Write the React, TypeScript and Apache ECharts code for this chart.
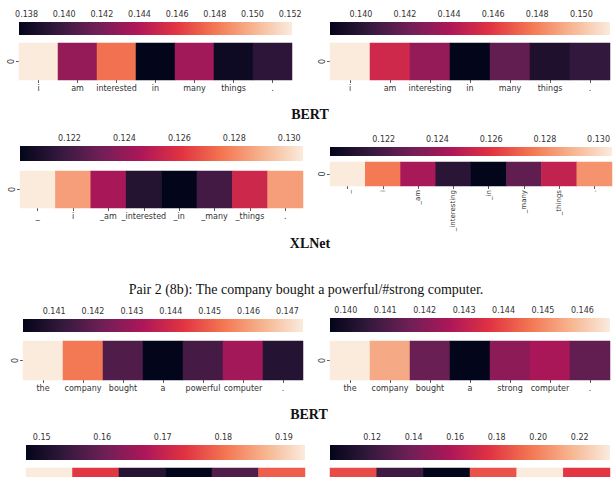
import { useEffect, useRef } from "react";
import * as echarts from "echarts";

// seaborn "rocket" colormap stops
const ROCKET = ["#03051a", "#35193e", "#701f57", "#ad1759", "#e13342", "#f37651", "#f6b48f", "#faebdd"];

// Pair 1, BERT
const bertTokens1a = ["i", "am", "interested", "in", "many", "things", "."];
const bertScores1a = [0.1521, 0.143, 0.1478, 0.1376, 0.1434, 0.1381, 0.1393];
const bertTicks1a = [0.138, 0.14, 0.142, 0.144, 0.146, 0.148, 0.15, 0.152];

const bertTokens1b = ["i", "am", "interesting", "in", "many", "things", "."];
const bertScores1b = [0.1513, 0.1452, 0.1433, 0.1386, 0.1418, 0.1396, 0.1403];
const bertTicks1b = [0.14, 0.142, 0.144, 0.146, 0.148, 0.15];

// Pair 1, XLNet
const xlnetTokens1a = ["_", "i", "_am", "_interested", "_in", "_many", "_things", "."];
const xlnetScores1a = [0.1305, 0.1285, 0.1245, 0.1212, 0.1202, 0.122, 0.1255, 0.1285];
const xlnetTicks1a = [0.122, 0.124, 0.126, 0.128, 0.13];

const xlnetTokens1b = ["_", "i", "_am", "_interesting", "_in", "_many", "_things", "."];
const xlnetScores1b = [0.1305, 0.1276, 0.1244, 0.1212, 0.12, 0.1226, 0.1251, 0.1282];
const xlnetTicks1b = [0.122, 0.124, 0.126, 0.128, 0.13];

// Pair 2, BERT
const bertTokens2a = ["the", "company", "bought", "a", "powerful", "computer", "."];
const bertScores2a = [0.1474, 0.1454, 0.1417, 0.1402, 0.1415, 0.1431, 0.1409];
const bertTicks2a = [0.141, 0.142, 0.143, 0.144, 0.145, 0.146, 0.147];

const bertTokens2b = ["the", "company", "bought", "a", "strong", "computer", "."];
const bertScores2b = [0.1467, 0.1455, 0.1415, 0.1396, 0.1421, 0.1426, 0.1414];
const bertTicks2b = [0.14, 0.141, 0.142, 0.143, 0.144, 0.145, 0.146];

// Pair 2, XLNet
const xlnetTokens2a = ["_the", "_company", "_bought", "_a", "_powerful", "_computer"];
const xlnetScores2a = [0.1935, 0.174, 0.152, 0.1474, 0.157, 0.178];
const xlnetTicks2a = [0.15, 0.16, 0.17, 0.18, 0.19];

const xlnetTokens2b = ["_the", "_company", "_bought", "_a", "_strong", "_computer"];
const xlnetScores2b = [0.184, 0.122, 0.0997, 0.186, 0.2346, 0.178];
const xlnetTicks2b = [0.12, 0.14, 0.16, 0.18, 0.2, 0.22];

type Panel = {
  tokens: string[];
  scores: number[];
  ticks: number[];
  digits: number;
  x: number;
  w: number;
  cbTop: number;
  cbH: number;
  hmTop: number;
  hmH: number;
  rotate?: number;
  labelSize?: number;
  // the last row runs past the bottom edge of the page, so its axis texts stay hidden
  clipped?: boolean;
};

const PANELS: Panel[] = [
  { tokens: bertTokens1a, scores: bertScores1a, ticks: bertTicks1a, digits: 3, x: 19, w: 273, cbTop: 22, cbH: 13, hmTop: 43, hmH: 37 },
  { tokens: bertTokens1b, scores: bertScores1b, ticks: bertTicks1b, digits: 3, x: 330, w: 280, cbTop: 22, cbH: 13, hmTop: 43, hmH: 37 },
  { tokens: xlnetTokens1a, scores: xlnetScores1a, ticks: xlnetTicks1a, digits: 3, x: 20, w: 283, cbTop: 146, cbH: 15, hmTop: 171, hmH: 37 },
  { tokens: xlnetTokens1b, scores: xlnetScores1b, ticks: xlnetTicks1b, digits: 3, x: 330, w: 282, cbTop: 147, cbH: 9, hmTop: 162, hmH: 24, rotate: 90, labelSize: 7 },
  { tokens: bertTokens2a, scores: bertScores2a, ticks: bertTicks2a, digits: 3, x: 23, w: 280, cbTop: 319, cbH: 13, hmTop: 341, hmH: 39 },
  { tokens: bertTokens2b, scores: bertScores2b, ticks: bertTicks2b, digits: 3, x: 330, w: 280, cbTop: 318, cbH: 14, hmTop: 341, hmH: 39 },
  { tokens: xlnetTokens2a, scores: xlnetScores2a, ticks: xlnetTicks2a, digits: 2, x: 26, w: 279, cbTop: 445, cbH: 15, hmTop: 468, hmH: 37, clipped: true },
  { tokens: xlnetTokens2b, scores: xlnetScores2b, ticks: xlnetTicks2b, digits: 2, x: 330, w: 280, cbTop: 445, cbH: 15, hmTop: 468, hmH: 37, clipped: true },
];

const TEXT = "#333";
const SANS = "DejaVu Sans";
const SERIF = "Liberation Serif";

function buildOption() {
  const grid: any[] = [];
  const xAxis: any[] = [];
  const yAxis: any[] = [];
  const series: any[] = [];
  const visualMap: any[] = [];

  const stops = ROCKET.map((c, i) => ({ offset: i / (ROCKET.length - 1), color: c }));

  PANELS.forEach((p, i) => {
    const lo = Math.min(...p.scores);
    const hi = Math.max(...p.scores);
    const cb = 2 * i;
    const hm = 2 * i + 1;

    // colorbar
    grid.push({ left: p.x, top: p.cbTop, width: p.w, height: p.cbH, outerBoundsMode: "none" });
    xAxis.push({
      type: "value",
      gridIndex: cb,
      position: "top",
      min: lo,
      max: hi,
      splitLine: { show: false },
      axisLine: { show: false },
      axisTick: { show: true, length: 3, customValues: p.ticks, lineStyle: { color: TEXT, width: 0.8 } },
      axisLabel: {
        customValues: p.ticks,
        formatter: (v: number) => v.toFixed(p.digits),
        fontFamily: SANS,
        fontSize: 8,
        color: TEXT,
        margin: 4,
      },
    });
    yAxis.push({ type: "value", gridIndex: cb, min: 0, max: 1, show: false });
    series.push({
      type: "custom",
      xAxisIndex: cb,
      yAxisIndex: cb,
      data: [[lo, hi]],
      encode: { x: [0, 1] },
      silent: true,
      renderItem: (_params: any, api: any) => {
        const a = api.coord([api.value(0), 0]);
        const b = api.coord([api.value(1), 1]);
        return {
          type: "rect",
          shape: { x: a[0], y: b[1], width: b[0] - a[0], height: a[1] - b[1] },
          style: { fill: new echarts.graphic.LinearGradient(0, 0, 1, 0, stops) },
        };
      },
    });

    // heatmap row
    grid.push({ left: p.x, top: p.hmTop, width: p.w, height: p.hmH, outerBoundsMode: "none" });
    xAxis.push({
      type: "category",
      gridIndex: hm,
      data: p.tokens,
      position: "bottom",
      splitArea: { show: false },
      axisLine: { show: false },
      axisTick: { show: !p.clipped, alignWithLabel: true, length: 3, lineStyle: { color: TEXT, width: 0.8 } },
      axisLabel: {
        show: !p.clipped,
        interval: 0,
        rotate: p.rotate ?? 0,
        fontFamily: SANS,
        fontSize: p.labelSize ?? 8,
        color: TEXT,
        margin: 4,
      },
    });
    yAxis.push({
      type: "category",
      gridIndex: hm,
      data: ["0"],
      splitArea: { show: false },
      axisLine: { show: false },
      axisTick: { show: !p.clipped, alignWithLabel: true, length: 3, lineStyle: { color: TEXT, width: 0.8 } },
      axisLabel: { show: !p.clipped, rotate: 90, fontFamily: SANS, fontSize: 8, color: TEXT, margin: 4 },
    });
    series.push({
      type: "heatmap",
      xAxisIndex: hm,
      yAxisIndex: hm,
      data: p.scores.map((v, k) => [k, 0, v]),
      silent: true,
      itemStyle: { borderWidth: 0 },
    });
    visualMap.push({
      type: "continuous",
      show: false,
      seriesIndex: series.length - 1,
      dimension: 2,
      min: lo,
      max: hi,
      inRange: { color: ROCKET },
    });
  });

  const label = (text: string, x: number, y: number, font: string) => ({
    type: "text",
    x,
    y,
    style: { text, font, fill: "#111", textAlign: "center", textVerticalAlign: "middle" },
    silent: true,
  });

  return {
    animation: false,
    backgroundColor: "#ffffff",
    grid,
    xAxis,
    yAxis,
    series,
    visualMap,
    graphic: [
      label("BERT", 310, 114, `bold 14px "${SERIF}"`),
      label("XLNet", 310, 243, `bold 14px "${SERIF}"`),
      label("Pair 2 (8b): The company bought a powerful/#strong computer.", 306, 289, `14px "${SERIF}"`),
      label("BERT", 309, 414, `bold 14px "${SERIF}"`),
    ],
  };
}

export default function App() {
  const ref = useRef<HTMLDivElement>(null);

  useEffect(() => {
    if (!ref.current) return;
    const chart = echarts.init(ref.current, undefined, { renderer: "svg" });
    chart.setOption(buildOption() as any);
    return () => chart.dispose();
  }, []);

  return (
    <div
      ref={ref}
      style={{ position: "fixed", left: 0, top: 0, width: 616, height: 477, background: "#fff" }}
    />
  );
}
